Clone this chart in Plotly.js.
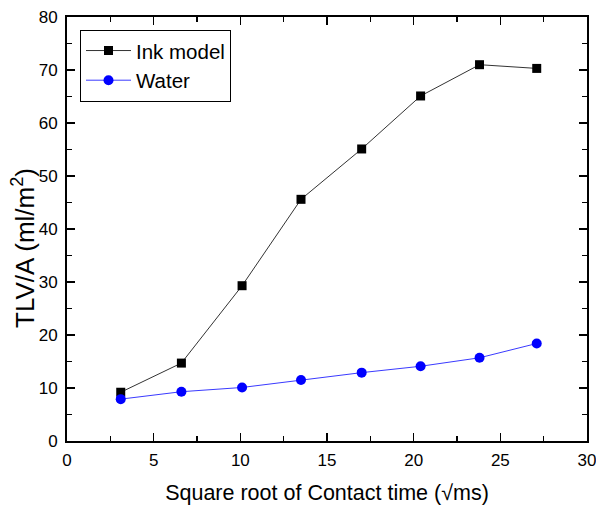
<!DOCTYPE html>
<html><head><meta charset="utf-8">
<script src="https://cdn.plot.ly/plotly-3.0.1.min.js"></script>
<style>body{margin:0;background:#fff}</style>
</head><body>
<div id="chart" style="width:596px;height:508px"></div>
<script>
const contactTime = [3.1, 6.6, 10.1, 13.5, 17.0, 20.4, 23.8, 27.1];
const inkModel = [9.2, 14.7, 29.3, 45.6, 55.1, 65.1, 71.0, 70.3];
const water = [7.9, 9.3, 10.1, 11.5, 12.9, 14.1, 15.7, 18.4];
const seriesNames = ["Ink model", "Water"];
const yTitle = 'TLV/A (ml/m<sup>2</sup>)';
const xTitle = 'Square root of Contact time (√ms)';

const FONT = 'Arial, Liberation Sans, sans-serif';

const traces = [
  {x: contactTime, y: inkModel, name: seriesNames[0], mode: 'lines+markers',
   line: {color: '#333333', width: 1}, marker: {symbol: 'square', size: 9, color: '#000000'}},
  {x: contactTime, y: water, name: seriesNames[1], mode: 'lines+markers',
   line: {color: '#3a3aff', width: 1}, marker: {symbol: 'circle', size: 10, color: '#0000ff'}}
];

const axisCommon = {
  showgrid: false, zeroline: false, showline: true, linecolor: '#000', linewidth: 2,
  mirror: 'allticks', ticks: 'inside', ticklen: 8, tickwidth: 1.5, tickcolor: '#000',
  tickfont: {family: FONT, size: 17, color: '#000'},
  ticklabeloverflow: 'allow',
  minor: {ticks: 'inside', ticklen: 5, tickwidth: 1.5, tickcolor: '#000'}
};

const layout = {
  width: 596, height: 508,
  margin: {l: 67, r: 9, t: 17, b: 67},
  paper_bgcolor: '#fff', plot_bgcolor: '#fff',
  showlegend: true,
  legend: {x: 0.025, y: 0.97, xanchor: 'left', yanchor: 'top', bordercolor: '#000', borderwidth: 1,
           font: {family: FONT, size: 20.5, color: '#000'},
           tracegroupgap: 0, itemwidth: 45},
  xaxis: Object.assign({}, axisCommon, {range: [0, 30], dtick: 5, tick0: 0,
    ticklabelstandoff: 3,
    minor: Object.assign({}, axisCommon.minor, {dtick: 2.5}),
    title: {text: xTitle, standoff: 16,
      font: {family: FONT, size: 21.5, color: '#000'}}}),
  yaxis: Object.assign({}, axisCommon, {range: [0, 80], dtick: 10, tick0: 0,
    ticklabelstandoff: 4,
    minor: Object.assign({}, axisCommon.minor, {dtick: 5})}),
  annotations: [{
    text: yTitle, xref: 'paper', yref: 'paper', x: -0.085, y: 0.455,
    xanchor: 'center', yanchor: 'middle', textangle: -90, showarrow: false,
    font: {family: FONT, size: 26, color: '#000'}
  }]
};

Plotly.newPlot('chart', traces, layout, {displayModeBar: false, staticPlot: true});
</script>
</body></html>
